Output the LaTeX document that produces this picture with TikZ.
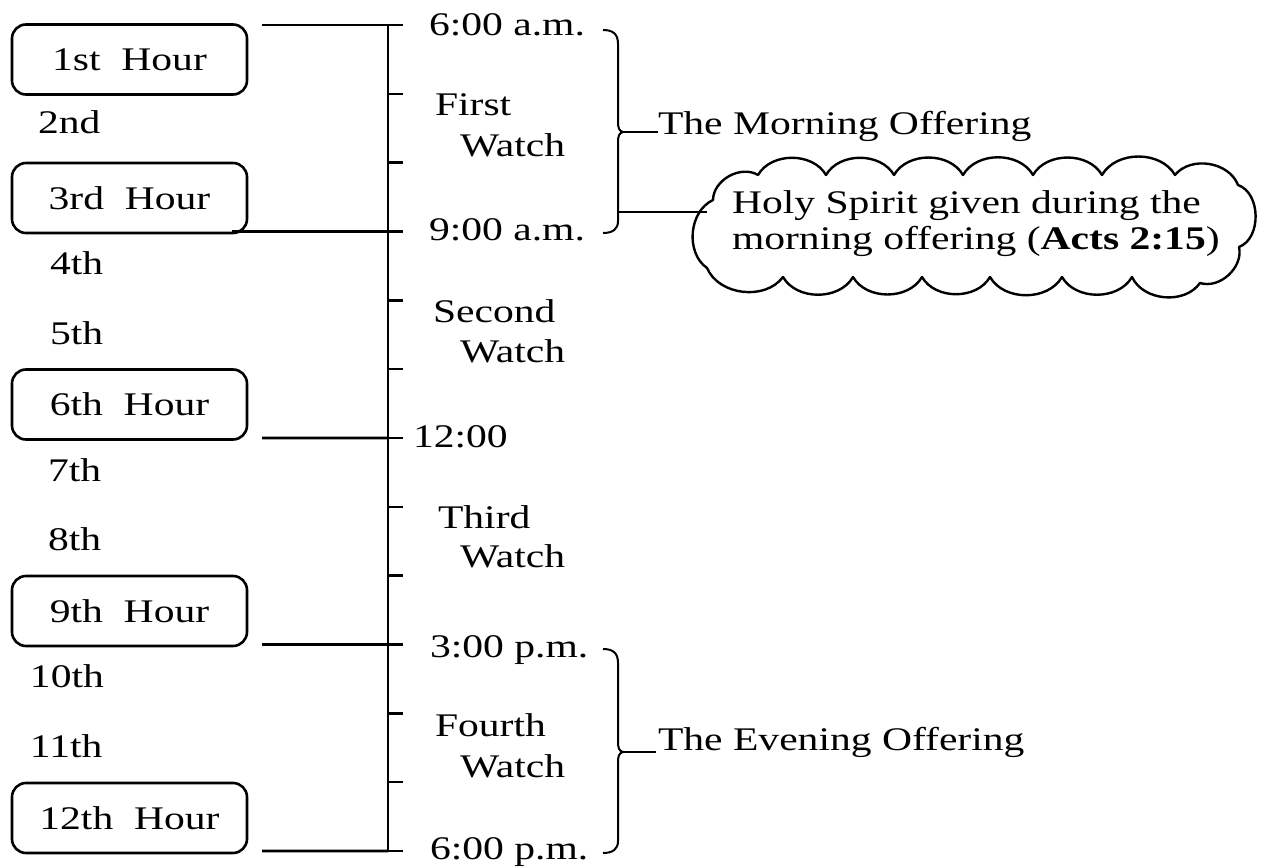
\documentclass[tikz,border=0pt]{standalone}
\usepackage{fontspec}
\setmainfont{Liberation Serif}[FakeStretch=1.26]
\begin{document}
\begin{tikzpicture}[x=1pt,y=-1pt,
  txt/.style={inner sep=0pt, outer sep=0pt, anchor=base west, font=\fontsize{33}{37}\selectfont},
  hourbox/.style={draw, rounded corners=14pt, line width=2.6pt, minimum width=235pt, minimum height=70pt, inner sep=0pt, outer sep=0pt, font=\fontsize{33}{37}\selectfont},
  axisline/.style={line width=2.6pt},
  braceline/.style={line width=2pt},
  cloudline/.style={line width=2.4pt, line join=round},
  bump/.style={bend left=60}]
\useasboundingbox (0,0) rectangle (1262,867);

% axis
\foreach \i in {0,...,12} {
  \coordinate (t\i) at (388, {25+\i*68.8333});
  \coordinate (e\i) at (403, {25+\i*68.8333});
}
\draw[axisline] (t0) -- (t12);
\foreach \i in {0,...,12} \draw[axisline] (t\i) -- (e\i);

% hour boxes
\node[hourbox] (h1)  at (129.5,59.5)  {1st~~Hour};
\node[hourbox] (h3)  at (129.5,198)   {3rd~~Hour};
\node[hourbox] (h6)  at (129.5,404.5) {6th~~Hour};
\node[hourbox] (h9)  at (129.5,611)   {9th~~Hour};
\node[hourbox] (h12) at (129.5,818)   {12th~~Hour};

% connectors from hour boxes to axis
\coordinate (l0)  at (262,25);
\coordinate (l3)  at (232,231.5);
\coordinate (l6)  at (262,438);
\coordinate (l9)  at (262,644.5);
\coordinate (l12) at (262,851);
\draw[axisline] (l0) -- (t0);
\draw[axisline] (l3) -- (t3);
\draw[axisline] (l6) -- (t6);
\draw[axisline] (l9) -- (t9);
\draw[axisline] (l12) -- (t12);

% intermediate hours
\node[txt] (n2)  at (38,133) {2nd};
\node[txt] (n4)  at (50,274) {4th};
\node[txt] (n5)  at (50,344) {5th};
\node[txt] (n7)  at (48,481) {7th};
\node[txt] (n8)  at (48,550) {8th};
\node[txt] (n10) at (30,687) {10th};
\node[txt] (n11) at (30,757) {11th};

% times and watches
\node[txt] (am6)  at (429,36)  {6:00 a.m.};
\node[txt] (w1a)  at (435,116) {First};
\node[txt] (w1b)  at (460,157) {Watch};
\node[txt] (am9)  at (429,240) {9:00 a.m.};
\node[txt] (w2a)  at (433,322) {Second};
\node[txt] (w2b)  at (460,362) {Watch};
\node[txt] (noon) at (413,447) {12:00};
\node[txt] (w3a)  at (438,528) {Third};
\node[txt] (w3b)  at (460,567) {Watch};
\node[txt] (pm3)  at (430,657) {3:00 p.m.};
\node[txt] (w4a)  at (435,736) {Fourth};
\node[txt] (w4b)  at (460,777) {Watch};
\node[txt] (pm6)  at (430,859) {6:00 p.m.};

% braces
\draw[braceline] (603,30) .. controls (613,30) and (618,34) .. (618,44) -- (618,121)
  .. controls (618,128) and (619,131) .. (623,132)
  .. controls (619,133) and (618,136) .. (618,143) -- (618,221)
  .. controls (618,229) and (613,233) .. (603,233);
\draw[braceline] (603,649) .. controls (613,649) and (618,653) .. (618,663) -- (618,741)
  .. controls (618,748) and (619,751) .. (623,752)
  .. controls (619,753) and (618,756) .. (618,763) -- (618,841)
  .. controls (618,849) and (613,853) .. (603,853);
\coordinate (bm) at (623,132);
\coordinate (be) at (623,752);
\coordinate (bc) at (618,212);

\node[txt] (morning) at (658,135) {The Morning Offering};
\node[txt] (evening) at (658,750) {The Evening Offering};
\coordinate (mEnd) at (658,132);
\coordinate (eEnd) at (656,752);
\draw[braceline] (bm) -- (mEnd);
\draw[braceline] (be) -- (eEnd);

% cloud
\draw[cloudline] (713,200) to[bump] (758,175) to[bump] (826,175) to[bump] (894,175)
  to[bump] (963,175) to[bump] (1033,175) to[bump] (1102,175) to[bump] (1175,175)
  to[bump] (1238,185) to[bend left=70] (1239,247) to[bump] (1200,283)
  to[bump] (1132,277) to[bump] (1062,277) to[bump] (990,277) to[bump] (922,277)
  to[bump] (853,277) to[bump] (783,277) to[bump] (707,268) to[bump] (713,200) -- cycle;
\coordinate (cl) at (707,212);
\draw[braceline] (bc) -- (cl);
\node[txt] (c1) at (732,213) {Holy Spirit given during the};
\node[txt] (c2) at (732,249) {morning offering (\textbf{Acts 2:15})};
\end{tikzpicture}
\end{document}
